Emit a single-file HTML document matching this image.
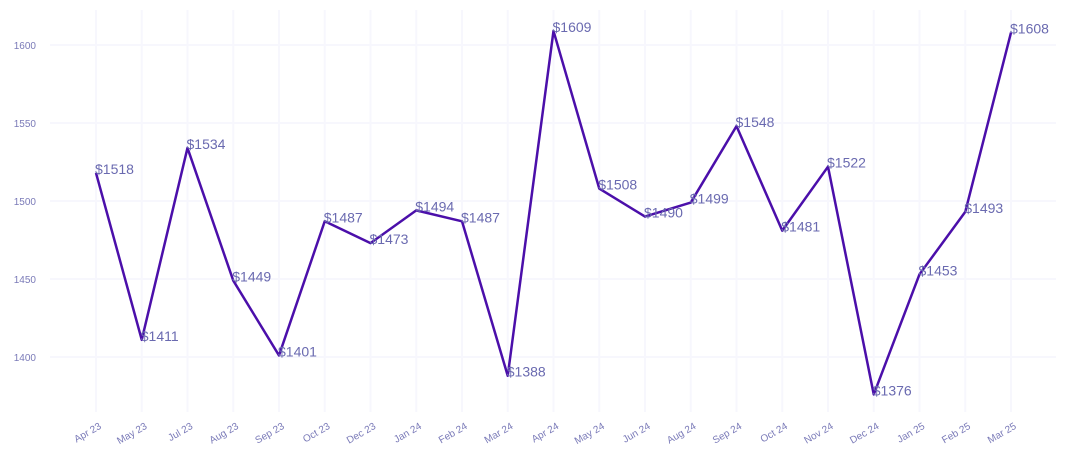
<!DOCTYPE html>
<html><head><meta charset="utf-8"><style>
body{margin:0;background:#fff;}
svg{display:block;font-family:"Liberation Sans",sans-serif;}
</style></head><body>
<svg id="chart" width="1070" height="465"></svg>
<script>
const categories=["Apr 23","May 23","Jul 23","Aug 23","Sep 23","Oct 23","Dec 23","Jan 24","Feb 24","Mar 24","Apr 24","May 24","Jun 24","Aug 24","Sep 24","Oct 24","Nov 24","Dec 24","Jan 25","Feb 25","Mar 25"];
const values=[1518,1411,1534,1449,1401,1487,1473,1494,1487,1388,1609,1508,1490,1499,1548,1481,1522,1376,1453,1493,1608];
const yTicks=[1400,1450,1500,1550,1600];
const NS="http://www.w3.org/2000/svg";
const svg=document.getElementById('chart');
const x=i=>96+i*(1011-96)/(categories.length-1);
const y=v=>357-(v-1400)*1.56;
function mk(t,a){const e=document.createElementNS(NS,t);for(const k in a)e.setAttribute(k,a[k]);svg.appendChild(e);return e;}
categories.forEach((c,i)=>{
  const g=mk('line',{x1:x(i),x2:x(i),y1:10,y2:412,stroke:'#f7f7fd','stroke-width':2});
  
  
  const t=mk('text',{x:x(i)+6,y:428,'text-anchor':'end','font-size':10,fill:'#7a7ab8',transform:`rotate(-30 ${x(i)+6} 428)`});
  t.textContent=c;
  
  
});
yTicks.forEach(v=>{
  const g=mk('line',{x1:50,x2:1056,y1:y(v),y2:y(v),stroke:'#f7f7fd','stroke-width':2});
  
  
  const t=mk('text',{x:36,y:y(v)+4,'text-anchor':'end','font-size':10,fill:'#7a7ab8'});
  t.textContent=v;
  
  
});
const line=mk('polyline',{points:values.map((v,i)=>x(i)+','+y(v)).join(' '),fill:'none',stroke:'#4b0faa','stroke-width':2.5,'stroke-linejoin':'round'});


values.forEach((v,i)=>{
  const t=mk('text',{x:x(i)-1,y:y(v)+1,'font-size':14,fill:'#6a6ab0'});
  t.textContent='$'+v;
  
  
});
</script>
</body></html>
